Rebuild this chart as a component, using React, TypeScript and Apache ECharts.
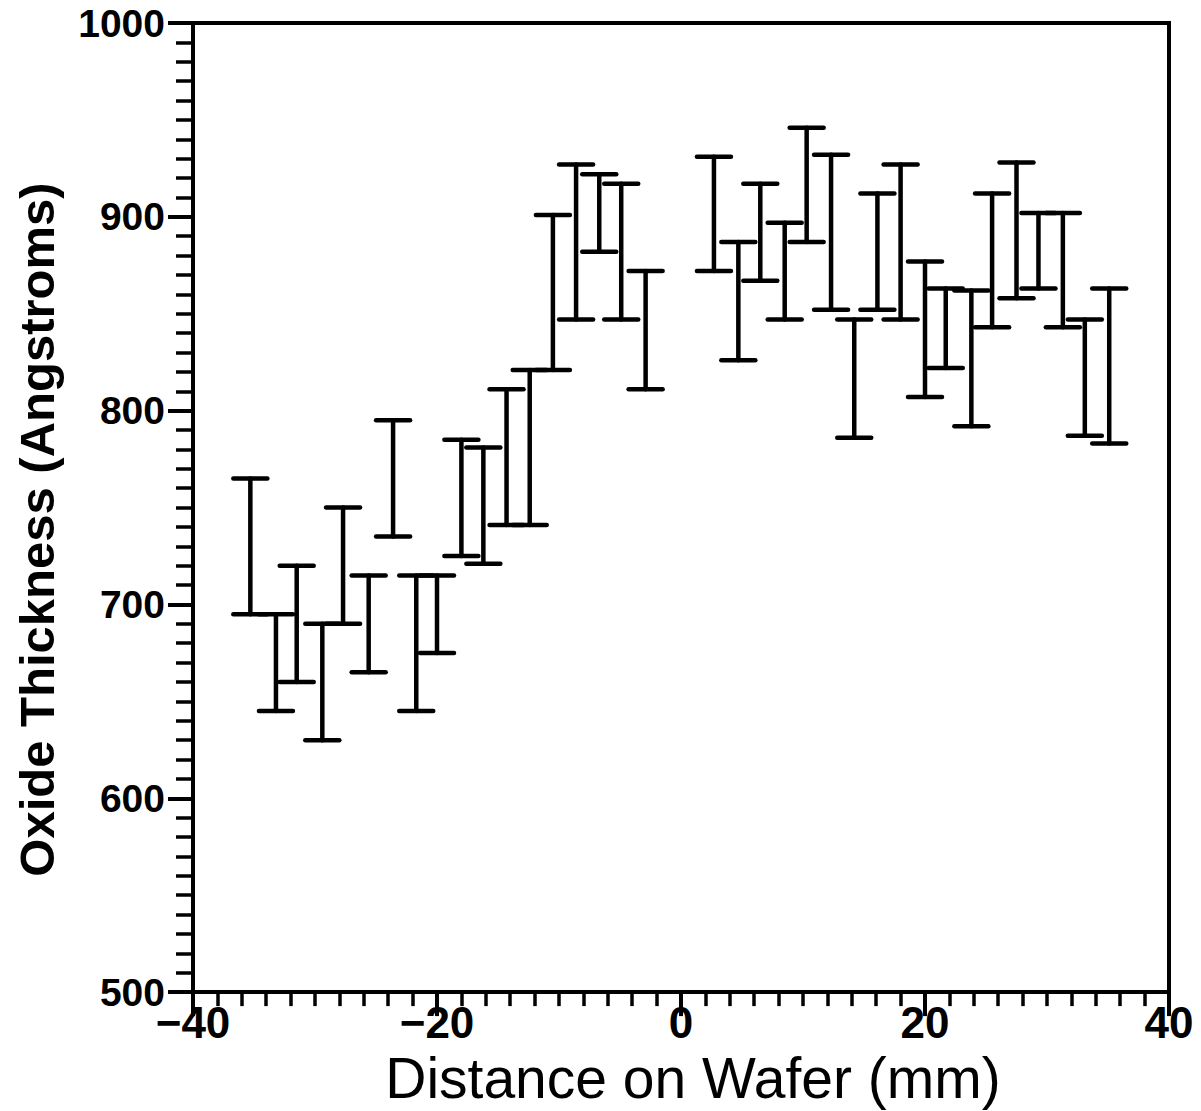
import React, { useEffect, useRef } from "react";
import * as echarts from "echarts";

// Distance on wafer (mm) for each measurement
const positions = [
  -35.3, -33.2, -31.5, -29.4, -27.7, -25.6, -23.6, -21.7, -20.0, -18.0, -16.2, -14.3, -12.4, -10.5, -8.6, -6.7, -4.9, -2.9,
  2.7, 4.7, 6.5, 8.5, 10.3, 12.3, 14.2, 16.1, 18.0, 20.0, 21.7, 23.8, 25.5, 27.5, 29.3, 31.3, 33.1, 35.1,
];
// Lower end of each error bar (Angstroms)
const lows = [
  695, 645, 660, 630, 690, 665, 735, 645, 675, 725, 721, 741, 741, 821, 847, 882, 847, 811,
  872, 826, 867, 847, 887, 852, 786, 852, 847, 807, 822, 792, 843, 858, 863, 843, 787, 783,
];
// Upper end of each error bar (Angstroms)
const highs = [
  765, 695, 720, 690, 750, 715, 795, 715, 715, 785, 781, 811, 821, 901, 927, 922, 917, 872,
  931, 887, 917, 897, 946, 932, 847, 912, 927, 877, 863, 862, 912, 928, 902, 902, 847, 863,
];
const xTicks = [-40, -20, 0, 20, 40];
const yTicks = [500, 600, 700, 800, 900, 1000];

export default function App() {
  const ref = useRef<HTMLDivElement>(null);
  useEffect(() => {
    if (!ref.current) return;
    const chart = echarts.init(ref.current, null, { renderer: "svg" });
    const data = positions.map((x, i) => [x, lows[i], highs[i]]);
    const lineStyle = { stroke: "#000", lineWidth: 4.5, lineCap: "round" };
    chart.setOption({
      animation: false,
      backgroundColor: "#fff",
      grid: {
        left: 193,
        right: 32,
        top: 23,
        bottom: 111,
        show: true,
        borderColor: "#000",
        borderWidth: 4,
        backgroundColor: "transparent",
      },
      xAxis: {
        type: "value",
        min: xTicks[0],
        max: xTicks[xTicks.length - 1],
        interval: 20,
        name: "Distance on Wafer (mm)",
        nameLocation: "middle",
        nameGap: 40,
        nameTextStyle: {
          fontFamily: "'Liberation Sans Narrow', 'Liberation Sans', sans-serif",
          fontSize: 57,
          color: "#000",
          padding: [0, 0, 0, 24],
        },
        axisLine: { show: true, onZero: false, lineStyle: { color: "#000", width: 4 } },
        axisTick: { show: true, inside: false, length: 24, lineStyle: { color: "#000", width: 4 } },
        minorTick: { show: true, splitNumber: 10, length: 14, lineStyle: { color: "#000", width: 3.5 } },
        splitLine: { show: false },
        minorSplitLine: { show: false },
        axisLabel: {
          margin: 8,
          fontFamily: "'Liberation Sans Narrow', 'Liberation Sans', sans-serif",
          fontWeight: "bold",
          fontSize: 44,
          color: "#000",
          formatter: (v: number) => String(v).replace("-", "\u2212"),
        },
      },
      yAxis: {
        type: "value",
        min: yTicks[0],
        max: yTicks[yTicks.length - 1],
        interval: 100,
        name: "Oxide Thickness (Angstroms)",
        nameLocation: "middle",
        nameRotate: 90,
        nameGap: 132,
        nameTextStyle: {
          fontFamily: "'Liberation Sans', sans-serif",
          fontWeight: "bold",
          fontSize: 49,
          color: "#000",
          padding: [0, 44, 0, 0],
        },
        axisLine: { show: true, onZero: false, lineStyle: { color: "#000", width: 4 } },
        axisTick: { show: true, inside: false, length: 25, lineStyle: { color: "#000", width: 4 } },
        minorTick: { show: true, splitNumber: 10, length: 17, lineStyle: { color: "#000", width: 3.5 } },
        splitLine: { show: false },
        minorSplitLine: { show: false },
        axisLabel: {
          margin: 28,
          fontFamily: "'Liberation Sans', sans-serif",
          fontWeight: "bold",
          fontSize: 39,
          color: "#000",
          formatter: (v: number) => String(v),
        },
      },
      series: [
        {
          type: "custom",
          data,
          encode: { x: 0, y: [1, 2] },
          renderItem: (params: any, api: any) => {
            const x = api.value(0);
            const pLo = api.coord([x, api.value(1)]);
            const pHi = api.coord([x, api.value(2)]);
            const hw = 17;
            return {
              type: "group",
              children: [
                { type: "line", shape: { x1: pHi[0], y1: pHi[1], x2: pLo[0], y2: pLo[1] }, style: lineStyle },
                { type: "line", shape: { x1: pHi[0] - hw, y1: pHi[1], x2: pHi[0] + hw, y2: pHi[1] }, style: lineStyle },
                { type: "line", shape: { x1: pLo[0] - hw, y1: pLo[1], x2: pLo[0] + hw, y2: pLo[1] }, style: lineStyle },
              ],
            };
          },
        },
      ],
    });
    return () => chart.dispose();
  }, []);
  return (
    <div
      ref={ref}
      style={{ position: "fixed", left: 0, top: 0, width: 1201, height: 1111, background: "#fff" }}
    />
  );
}
